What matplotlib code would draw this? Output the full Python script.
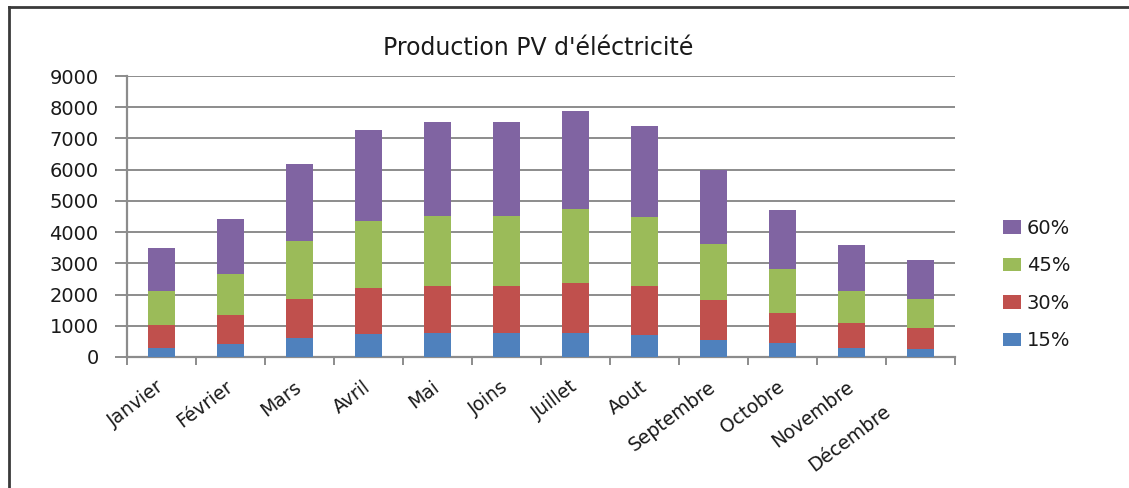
import matplotlib
matplotlib.use("Agg")
import matplotlib.pyplot as plt
import matplotlib.transforms as mtransforms
from matplotlib.lines import Line2D
from matplotlib.patches import Patch
import numpy as np

months = ["Janvier", "Février", "Mars", "Avril", "Mai", "Joins", "Juillet",
          "Aout", "Septembre", "Octobre", "Novembre", "Décembre"]
series_labels = ["15%", "30%", "45%", "60%"]
pv_15 = [300, 405, 620, 725, 770, 770, 770, 715, 560, 462, 300, 247]
pv_30 = [715, 930, 1240, 1485, 1495, 1495, 1600, 1550, 1250, 936, 786, 688]
pv_45 = [1090, 1335, 1845, 2155, 2265, 2265, 2360, 2210, 1800, 1408, 1032, 936]
pv_60 = [1390, 1750, 2475, 2895, 2990, 2990, 3150, 2935, 2380, 1914, 1463, 1237]
yticks = [0, 1000, 2000, 3000, 4000, 5000, 6000, 7000, 8000, 9000]

colors = ["#4F81BD", "#C0504D", "#9BBB59", "#8064A2"]
grid_col = "#8C8C8C"
text_col = "#1A1A1A"

W, H = 1129, 488
fig = plt.figure(figsize=(W / 100, H / 100), dpi=100)
fig.patch.set_facecolor("white")

ax = fig.add_axes([127 / W, 1 - 357 / H, (955 - 127) / W, (357 - 76) / H])

x = np.arange(len(months))
bottom = np.zeros(len(months))
handles = []
for vals, col, lab in zip([pv_15, pv_30, pv_45, pv_60], colors, series_labels):
    v = np.array(vals, dtype=float)
    ax.bar(x, v, width=0.4, bottom=bottom, color=col, edgecolor="none",
           zorder=3, label=lab)
    bottom += v
    handles.append(Patch(facecolor=col, edgecolor="none", label=lab))

ax.set_xlim(-0.5, len(months) - 0.5)
ax.set_ylim(0, 9000)
ax.set_yticks(yticks)
ax.set_yticklabels([str(t) for t in yticks])
ax.yaxis.grid(True, color=grid_col, linewidth=1.4, zorder=0)
ax.set_axisbelow(True)

for side in ["top", "right"]:
    ax.spines[side].set_visible(False)
ax.spines["left"].set_color(grid_col)
ax.spines["left"].set_linewidth(1.6)
ax.spines["bottom"].set_color(grid_col)
ax.spines["bottom"].set_linewidth(1.6)

ax.tick_params(axis="y", direction="out", length=8.5, width=1.4,
               color=grid_col, pad=12, labelsize=14, labelcolor=text_col)

# category boundaries carry the tick marks, labels sit at centres
ax.set_xticks(x)
ax.set_xticks(np.arange(-0.5, len(months)), minor=True)
ax.tick_params(axis="x", which="major", length=0, pad=20)
ax.tick_params(axis="x", which="minor", direction="out", length=5.5,
               width=1.4, color=grid_col)
ax.set_xticklabels(months, rotation=37, ha="right", va="center",
                   rotation_mode="anchor", fontsize=13.5, color=text_col)
last = ax.get_xticklabels()[-1]
last.set_transform(last.get_transform() +
                   mtransforms.ScaledTranslation(-0.32, -0.24, fig.dpi_scale_trans))

fig.text(538 / W, 1 - 48 / H, "Production PV d'éléctricité", ha="center",
         va="center", fontsize=17, color=text_col)

fig.legend(handles=handles[::-1], loc="center left",
           bbox_to_anchor=(1003 / W, 1 - 284.5 / H),
           bbox_transform=fig.transFigure, frameon=False, fontsize=14,
           handlelength=0.93, handleheight=0.67, handletextpad=0.3,
           labelspacing=0.95, borderpad=0, borderaxespad=0,
           labelcolor=text_col)

# outer frame (left and top edges)
fig.add_artist(Line2D([8.5 / W, 8.5 / W], [0, 1 - 7 / H], transform=fig.transFigure,
                      color="#3A3A3A", linewidth=2))
fig.add_artist(Line2D([8.5 / W, 1], [1 - 7 / H, 1 - 7 / H], transform=fig.transFigure,
                      color="#3A3A3A", linewidth=2))

fig.savefig("out.png", dpi=100, facecolor="white")
